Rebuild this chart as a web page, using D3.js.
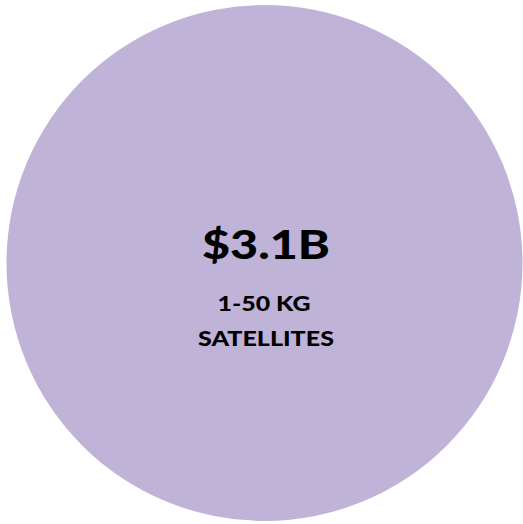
<!DOCTYPE html>
<html>
<head>
<meta charset="utf-8">
<script src="https://cdn.jsdelivr.net/npm/d3@7"></script>
<style>
  body { margin: 0; background: #fff; }
  svg { display: block; }
  text { font-family: Lato, "Open Sans", sans-serif; font-weight: bold; fill: #000; }
</style>
</head>
<body>
<div id="chart"></div>
<script>
// market segments (only one bubble in this view)
var segments = ["1-50KG SATELLITES"];
var values = [3.1];               // $B
var valueLabels = ["$3.1B"];
var subLabels = [["1-50 KG", "SATELLITES"]];

var width = 523, height = 524;
var cx = 264.5, cy = 263;

var svg = d3.select("#chart").append("svg")
  .attr("width", width)
  .attr("height", height);

// bubble area proportional to value
var r = d3.scaleSqrt().domain([0, d3.max(values)]).range([0, 258]);

var g = svg.selectAll("g.bubble")
  .data(values)
  .enter().append("g")
  .attr("class", "bubble")
  .attr("transform", "translate(" + cx + "," + cy + ")");

g.append("circle")
  .attr("r", function (d) { return r(d); })
  .attr("fill", "#bfb3d8");

// the labels are set in a wide bold face, stretch Lato to the same widths
g.append("text")
  .attr("text-anchor", "middle")
  .attr("x", 1.5)
  .attr("y", -4)
  .attr("font-size", 40)
  .style("font-weight", 900)
  .attr("textLength", 128)
  .attr("lengthAdjust", "spacingAndGlyphs")
  .text(function (d, i) { return valueLabels[i]; });

var subX = [-0.5, 1.5], subY = [48, 83], subW = [93, 136];
g.each(function (d, i) {
  var sel = d3.select(this);
  subLabels[i].forEach(function (t, j) {
    sel.append("text")
      .attr("text-anchor", "middle")
      .attr("x", subX[j])
      .attr("y", subY[j])
      .attr("font-size", 21)
      .style("font-weight", 900)
      .attr("textLength", subW[j])
      .attr("lengthAdjust", "spacingAndGlyphs")
      .text(t);
  });
});
</script>
</body>
</html>
